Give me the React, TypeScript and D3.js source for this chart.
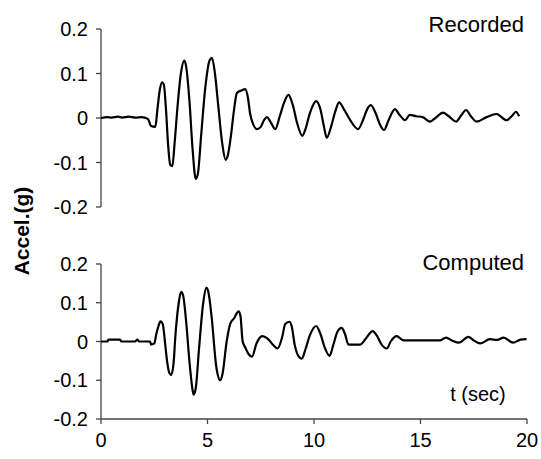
import React from 'react';
import * as d3 from 'd3';

// recorded ground motion (time s, accel g)
const recordedT = [0, 0.3, 0.5, 0.8, 1.0, 1.3, 1.6, 1.9, 2.2, 2.35, 2.55, 2.65, 2.75, 2.87, 2.95, 3.05, 3.15, 3.25, 3.35, 3.45, 3.6, 3.75, 3.91, 4.0, 4.15, 4.3, 4.45, 4.55, 4.7, 4.9, 5.1, 5.21, 5.35, 5.5, 5.7, 5.85, 5.95, 6.1, 6.25, 6.38, 6.6, 6.77, 6.9, 7.0, 7.15, 7.32, 7.5, 7.65, 7.79, 7.95, 8.18, 8.4, 8.6, 8.8, 9.0, 9.2, 9.45, 9.6, 9.8, 10.1, 10.3, 10.45, 10.6, 10.8, 11.0, 11.18, 11.4, 11.7, 12.07, 12.3, 12.5, 12.67, 12.9, 13.1, 13.29, 13.5, 13.8, 14.0, 14.28, 14.5, 14.8, 15.1, 15.45, 15.7, 16.06, 16.3, 16.67, 16.9, 17.14, 17.35, 17.64, 18.1, 18.57, 19.04, 19.3, 19.48, 19.63];
const recordedA = [0, 0.002, 0.001, 0.003, 0.001, 0.003, 0.001, 0.002, -0.002, -0.018, -0.02, 0.02, 0.06, 0.08, 0.075, 0.02, -0.06, -0.105, -0.108, -0.06, 0.03, 0.1, 0.129, 0.115, 0.04, -0.07, -0.137, -0.125, -0.04, 0.07, 0.13, 0.135, 0.1, 0.03, -0.06, -0.094, -0.085, -0.04, 0.02, 0.056, 0.062, 0.065, 0.045, 0.01, -0.015, -0.025, -0.02, -0.005, 0.002, -0.008, -0.025, 0.005, 0.035, 0.052, 0.03, -0.01, -0.04, -0.025, 0.01, 0.038, 0.02, -0.015, -0.044, -0.02, 0.015, 0.035, 0.02, -0.005, -0.025, -0.005, 0.02, 0.029, 0.01, -0.015, -0.027, -0.005, 0.02, 0.008, -0.005, 0.007, 0.004, 0.002, -0.008, 0.0, 0.012, 0.005, -0.008, 0.005, 0.018, 0.005, -0.008, 0.002, 0.009, -0.005, 0.005, 0.014, 0.004];

// computed response
const computedT = [0, 0.3, 0.35, 0.9, 0.95, 1.6, 1.7, 1.8, 2.3, 2.35, 2.5, 2.6, 2.7, 2.79, 2.9, 3.0, 3.1, 3.2, 3.29, 3.4, 3.5, 3.65, 3.76, 3.85, 4.0, 4.15, 4.3, 4.35, 4.45, 4.6, 4.8, 4.95, 5.05, 5.2, 5.4, 5.6, 5.7, 5.9, 6.07, 6.25, 6.46, 6.55, 6.65, 6.77, 6.9, 7.09, 7.3, 7.56, 7.87, 8.1, 8.29, 8.5, 8.65, 8.85, 8.95, 9.1, 9.3, 9.43, 9.6, 9.8, 10.1, 10.3, 10.5, 10.73, 10.9, 11.1, 11.3, 11.45, 11.62, 12.17, 12.4, 12.76, 12.95, 13.2, 13.42, 13.6, 13.88, 14.2, 15.0, 15.9, 16.2, 16.5, 16.8, 17.25, 17.5, 17.8, 18.26, 18.6, 18.9, 19.35, 19.7, 19.98];
const computedA = [0, 0, 0.005, 0.005, 0, 0, 0.005, 0, 0, -0.008, -0.005, 0.02, 0.04, 0.052, 0.045, 0.0, -0.05, -0.08, -0.087, -0.06, 0.02, 0.1, 0.128, 0.12, 0.05, -0.05, -0.125, -0.137, -0.12, -0.02, 0.1, 0.139, 0.125, 0.06, -0.06, -0.1, -0.085, 0.0, 0.046, 0.06, 0.078, 0.065, 0.0, -0.015, -0.03, -0.039, -0.005, 0.014, 0.005, -0.01, -0.018, 0.01, 0.045, 0.051, 0.04, -0.01, -0.04, -0.044, -0.02, 0.015, 0.04, 0.02, -0.015, -0.037, -0.01, 0.025, 0.035, 0.02, -0.008, -0.008, 0.005, 0.027, 0.015, -0.01, -0.018, 0.0, 0.014, 0.003, 0.003, 0.003, 0.01, 0.002, -0.003, 0.012, 0.003, -0.005, 0.006, 0.004, 0.01, -0.003, 0.005, 0.006];

const yTicks = [-0.2, -0.1, 0, 0.1, 0.2];
const yTickLabels = ['-0.2', '-0.1', '0', '0.1', '0.2'];
const xTicks = [0, 5, 10, 15, 20];

const W = 541;
const H = 459;
const axisColor = '#444';
const font = 'Arial, "Liberation Sans", sans-serif';

const x = d3.scaleLinear().domain([0, 20]).range([101, 527]);
const yTop = d3.scaleLinear().domain([-0.2, 0.2]).range([207, 29]);
const yBot = d3.scaleLinear().domain([-0.2, 0.2]).range([419, 264]);

const Panel = ({ t, a, y, title, titleY }: { t: number[]; a: number[]; y: d3.ScaleLinear<number, number>; title: string; titleY: number }) => {
  const line = d3.line<number>().x((_, i) => x(t[i])).y((d) => y(d)).curve(d3.curveMonotoneX);
  const [r0, r1] = y.range();
  return (
    <g>
      <line x1={x(0)} x2={x(0)} y1={r0} y2={r1} stroke={axisColor} strokeWidth={1.3} />
      {yTicks.map((v, i) => (
        <g key={v}>
          <line x1={x(0) - 5} x2={x(0)} y1={y(v)} y2={y(v)} stroke={axisColor} strokeWidth={1.3} />
          <text x={x(0) - 13} y={y(v)} dy="0.35em" textAnchor="end" fontSize={20} fontFamily={font}>{yTickLabels[i]}</text>
        </g>
      ))}
      <path d={line(a) || ''} fill="none" stroke="#000" strokeWidth={2.2} strokeLinejoin="round" />
      <text x={524} y={titleY} textAnchor="end" fontSize={22} fontFamily={font}>{title}</text>
    </g>
  );
};

export default function App() {
  const base = yBot(-0.2);
  return (
    <svg width={W} height={H} style={{ position: 'absolute', left: 0, top: 0, background: '#fff' }}>
      <Panel t={recordedT} a={recordedA} y={yTop} title="Recorded" titleY={32} />
      <Panel t={computedT} a={computedA} y={yBot} title="Computed" titleY={270} />
      <line x1={x(0)} x2={x(20)} y1={base} y2={base} stroke={axisColor} strokeWidth={1.3} />
      {xTicks.map((v) => (
        <g key={v}>
          <line x1={x(v)} x2={x(v)} y1={base} y2={base + 5} stroke={axisColor} strokeWidth={1.3} />
          <text x={x(v)} y={447} textAnchor="middle" fontSize={20} fontFamily={font}>{v}</text>
        </g>
      ))}
      <text x={478} y={401} textAnchor="middle" fontSize={20} fontFamily={font}>t (sec)</text>
      <text transform={`translate(29,231) rotate(-90)`} textAnchor="middle" fontSize={21} fontWeight="bold" fontFamily={font}>Accel.(g)</text>
    </svg>
  );
}
